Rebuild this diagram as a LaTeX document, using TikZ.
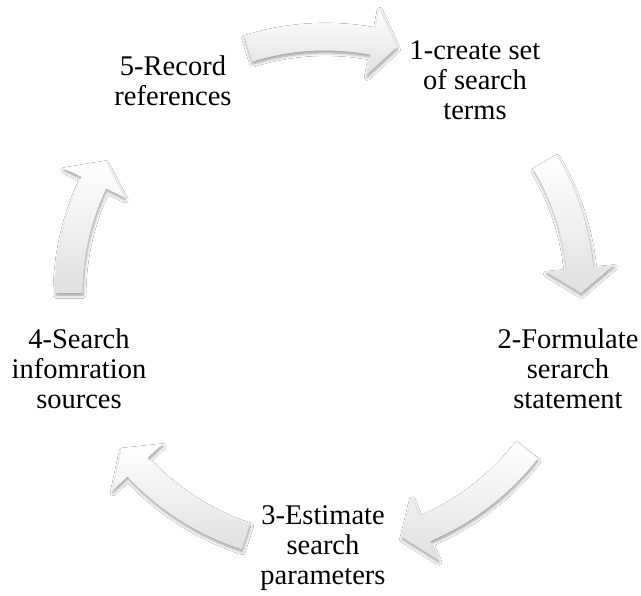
\documentclass[tikz,border=0pt]{standalone}
\usepackage{fontspec}
\setmainfont{Liberation Serif}
\usetikzlibrary{calc,shadows.blur}

\tikzset{
  stage/.style={align=center, inner sep=0pt, anchor=north,
    font=\fontsize{28.5}{30}\selectfont,
    execute at begin node=\strut, execute at end node=\strut},
  cyclearrow/.style={top color=white, bottom color=black!12, draw=none,
    blur shadow={shadow xshift=0.6pt, shadow yshift=-2.4pt,
      shadow blur radius=3pt, shadow blur steps=6, shadow opacity=40}}
}

% curved block arrow on the ring around (C): #1 = tail angle, #2 = tip angle
\newcommand\ringarrow[2]{%
  \pgfmathsetmacro\headbase{#2+5.5}%
  \path[cyclearrow]
    ($(C)+(#1:269.5)$) arc[start angle=#1, end angle=\headbase, radius=269.5]
    -- ($(C)+(\headbase:290)$)
    -- ($(C)+(#2:256)$)
    -- ($(C)+(\headbase:222)$)
    -- ($(C)+(\headbase:242.5)$)
    arc[start angle=\headbase, end angle=#1, radius=242.5]
    -- cycle;%
}

\begin{document}
\begin{tikzpicture}[x=1pt,y=1pt]
  \fill[white] (0,0) rectangle (641,596);
  \useasboundingbox (0,0) rectangle (641,596);
  \coordinate (C) at (325,303);

  % arrows of the cycle, clockwise
  \ringarrow{107.5}{73.7}
  \ringarrow{30.8}{0}
  \ringarrow{-38}{-72.5}
  \ringarrow{-108}{-142.6}
  \ringarrow{180}{149}

  % steps
  \node[stage] (s1) at (475,555.3) {1-create set\\of search\\terms};
  \node[stage] (s2) at (568,267) {2-Formulate\\serarch\\statement};
  \node[stage] (s3) at (323,90.3) {3-Estimate\\search\\parameters};
  \node[stage] (s4) at (79,267.7) {4-Search\\infomration\\sources};
  \node[stage] (s5) at (173,540.3) {5-Record\\references};
\end{tikzpicture}
\end{document}
